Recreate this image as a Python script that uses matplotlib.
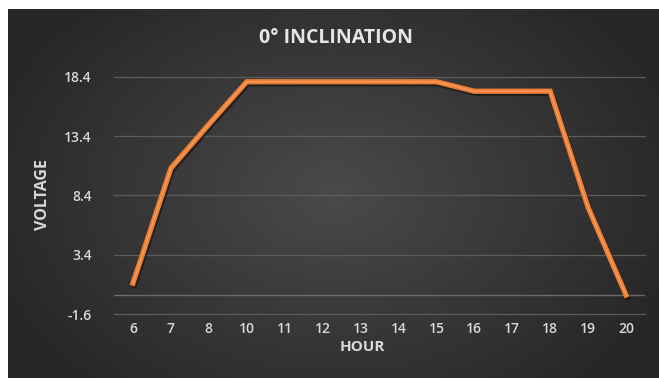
import numpy as np
import matplotlib
matplotlib.use("Agg")
import matplotlib.pyplot as plt
import matplotlib.patheffects as pe

plt.rcParams['font.family'] = ['Open Sans', 'DejaVu Sans']

# Hourly panel voltage at 0 degrees inclination
hours = ["6", "7", "8", "10", "11", "12", "13", "14", "15", "16", "17", "18", "19", "20"]
voltage = [1.0, 10.7, 14.4, 18.0, 18.0, 18.0, 18.0, 18.0, 18.0, 17.2, 17.2, 17.2, 7.4, 0.0]
y_ticks = [-1.6, 3.4, 8.4, 13.4, 18.4]

W, H, DPI = 659, 378, 100
fig = plt.figure(figsize=(W / DPI, H / DPI), dpi=DPI, facecolor="white")

# dark radial-gradient panel behind the chart
bg = fig.add_axes([8 / W, 0, (W - 8) / W, (H - 9) / H], zorder=-5)
gx, gy = np.meshgrid(np.linspace(-1, 1, 400), np.linspace(-1, 1, 240))
r = np.sqrt((gx * 0.95) ** 2 + (gy * 0.75) ** 2)
shade = np.clip(0.29 - 0.13 * r, 0.15, 0.3)
bg.imshow(np.dstack([shade, shade, shade]), aspect="auto", extent=[0, 1, 0, 1],
          interpolation="bilinear")
bg.set_axis_off()

left, right, top, bottom = 114, 645, 77, 314
ax = fig.add_axes([left / W, (H - bottom) / H, (right - left) / W, (bottom - top) / H])
ax.set_facecolor("none")

x = np.arange(len(hours))
ax.plot(x, voltage, color="#ED7D31", lw=3.8, solid_joinstyle="miter", zorder=3,
        path_effects=[pe.SimpleLineShadow(offset=(1, -1.5), shadow_color="black", alpha=0.45),
                      pe.Normal()])
ax.plot(x, voltage, color="#F6B98E", lw=1.0, alpha=0.55, zorder=4)

ax.set_xlim(-0.5, len(hours) - 0.5)
ax.set_ylim(y_ticks[0], y_ticks[-1])
ax.set_yticks(y_ticks)
ax.set_yticklabels([f"{v:.1f}" for v in y_ticks])
ax.set_xticks(x)
ax.set_xticklabels(hours)

for v in y_ticks:
    ax.axhline(v, color="#5c5c5c", lw=0.9, zorder=1, clip_on=False)
ax.axhline(0, color="#6a6a6a", lw=1.0, zorder=1)

for s in ax.spines.values():
    s.set_visible(False)
ax.tick_params(axis="both", length=0, colors="#d9d9d9", labelsize=10)
ax.tick_params(axis="y", pad=16)
ax.tick_params(axis="x", pad=6)
for lab in ax.get_xticklabels() + ax.get_yticklabels():
    lab.set_fontweight("semibold")

fig.text(336 / W, 1 - 38 / H, "0° INCLINATION", ha="center", va="center",
         color="#e6e6e6", fontsize=14, fontweight="bold")
fig.text(43 / W, 1 - 195 / H, "VOLTAGE", ha="center", va="center", rotation=90,
         color="#d9d9d9", fontsize=11.5, fontweight="bold")
fig.text(362 / W, 1 - 347 / H, "HOUR", ha="center", va="center",
         color="#d9d9d9", fontsize=11, fontweight="bold")

fig.savefig("out.png", dpi=DPI, facecolor="white")
